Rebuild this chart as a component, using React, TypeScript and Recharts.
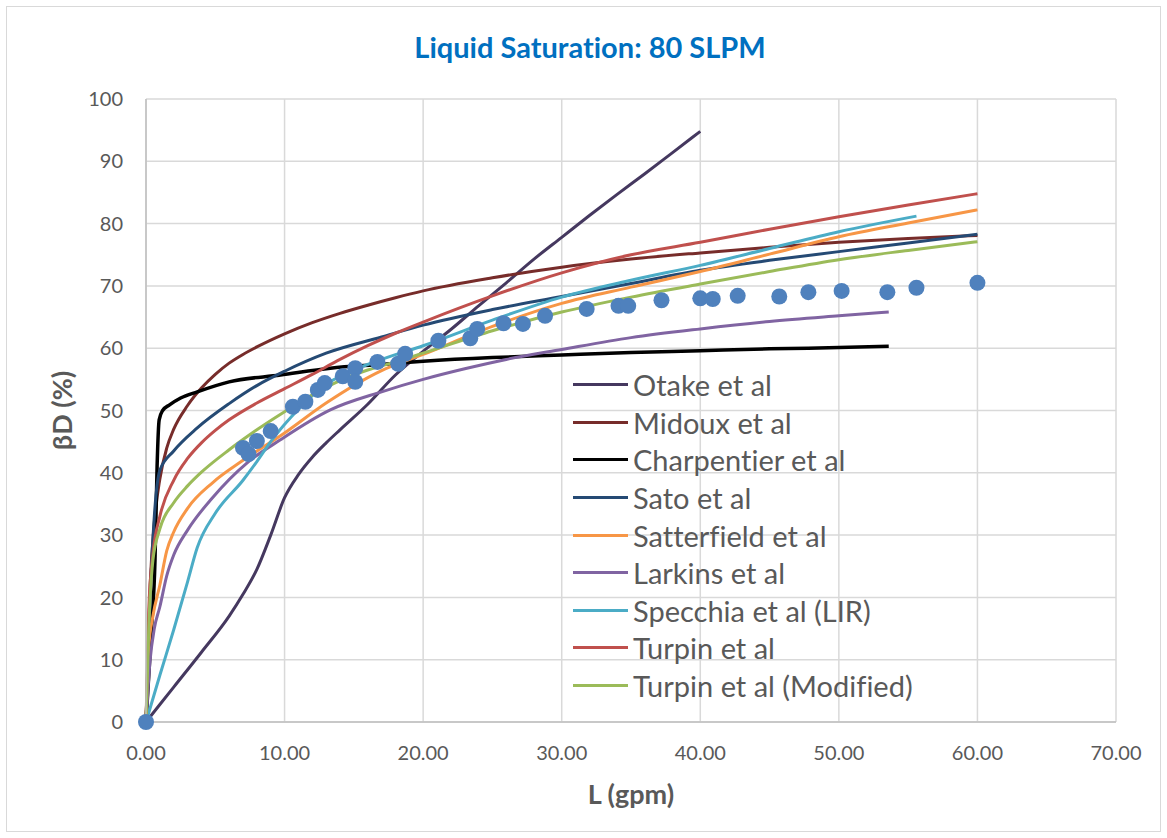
import React from 'react';
import {
  ComposedChart,
  Line,
  Scatter,
  XAxis,
  YAxis,
  CartesianGrid,
  Label,
} from 'recharts';

// [L (gpm), βD (%)] pairs for each correlation
const otake = [
  [0, 0], [2, 5.6], [4, 11.2], [6, 17], [7, 20.5], [8, 24.5], [9, 30], [10, 36], [11, 39.7],
  [12, 42.5], [13, 44.8], [14, 46.9], [16, 51], [18, 55.7], [20, 59.5], [22, 63], [24, 66.8],
  [26, 70.5], [28, 74.3], [30, 77.8], [32, 81.3], [34, 84.7], [36, 88], [38, 91.4], [40, 94.8],
];
const midoux = [
  [0, 0], [0.3, 22], [0.6, 32], [1, 39], [1.5, 44], [2, 47], [3, 50.8], [4, 53.6], [5, 55.8],
  [6, 57.6], [7, 59], [8, 60.2], [10, 62.3], [12, 64.1], [14, 65.6], [16, 66.9], [18, 68.1],
  [20, 69.2], [25, 71.3], [30, 73], [35, 74.3], [40, 75.3], [45, 76.2], [50, 77], [55, 77.6], [60, 78.1],
];
const charpentier = [
  [0, 0], [0.4, 15], [0.65, 26], [0.8, 41], [0.95, 48.5], [1.2, 50], [1.7, 50.9], [2.5, 52],
  [3.7, 53], [6, 54.6], [9.7, 55.7], [13.3, 56.8], [17, 57.4], [20, 57.9], [25, 58.5], [30, 58.9],
  [35, 59.3], [40, 59.6], [45, 59.9], [50, 60.1], [53.6, 60.3],
];
const sato = [
  [0, 0], [0.3, 20], [0.6, 33], [1, 40.4], [2, 43.5], [3.7, 47.2], [6, 51.1], [8, 54], [10, 56.3],
  [13, 59.2], [17, 61.8], [20, 63.7], [25, 66.2], [30, 68.3], [35, 70.4], [40, 72.5], [45, 74.1],
  [50, 75.5], [55, 76.9], [60, 78.3],
];
const satterfield = [
  [0, 0], [0.2, 12], [0.5, 17], [1, 22], [1.5, 27.5], [2, 30.5], [3, 34.3], [4.8, 38.4], [7, 42],
  [10, 46.4], [13, 51.2], [17, 56.4], [20, 59], [25, 63.5], [30, 67.2], [35, 69.8], [40, 72.3],
  [45, 75.1], [50, 77.9], [55, 80.1], [60, 82.2],
];
const larkins = [
  [0, 0], [0.3, 10], [0.6, 15], [1, 18.5], [1.5, 23.5], [2, 26.8], [3, 30.8], [4.8, 36], [7.3, 41.6],
  [9.7, 45.3], [13.3, 50.1], [17, 53], [20, 55], [23, 56.7], [26, 58.2], [30, 59.8], [35, 61.7],
  [40, 63.1], [45, 64.3], [50, 65.2], [53.6, 65.8],
];
const specchia = [
  [0, 0], [1, 7.5], [2, 14.8], [3, 22.5], [3.7, 28], [5, 33.5], [7, 38.8], [8, 41.8], [9, 45],
  [11, 50.2], [13, 54.2], [15, 56.5], [17, 58.2], [20, 60.4], [25, 64.5], [30, 68.2], [35, 70.9],
  [40, 73.3], [45, 76], [50, 78.7], [55.6, 81.2],
];
const turpin = [
  [0, 0], [0.2, 18], [0.5, 27], [1, 33], [2, 38.8], [3, 42.3], [4, 44.8], [5, 46.8], [6, 48.5],
  [8, 51.2], [10, 53.5], [12, 55.8], [14, 58.2], [16, 60.4], [18, 62.4], [20, 64.2], [25, 68.4],
  [30, 72.1], [35, 75], [40, 77], [45, 79.1], [50, 81.1], [55, 83], [60, 84.8],
];
const turpinModified = [
  [0, 0], [0.2, 15], [0.5, 26], [1, 31], [2, 35.2], [3, 37.9], [4, 40.1], [6, 43.7], [8, 46.9],
  [10, 49.8], [12, 52.5], [14, 54.8], [16, 56.5], [18, 57.8], [20, 59.2], [25, 62.8], [30, 65.8],
  [35, 68.2], [40, 70.3], [45, 72.3], [50, 74.2], [55, 75.7], [60, 77.1],
];

// measured points
const measured = [
  [0, 0], [7.0, 44.0], [7.4, 43.0], [8.0, 45.1], [9.0, 46.7], [10.6, 50.6], [11.5, 51.4],
  [12.4, 53.3], [12.9, 54.4], [14.2, 55.5], [15.1, 56.8], [15.1, 54.6], [16.7, 57.8],
  [18.2, 57.5], [18.7, 59.1], [21.1, 61.2], [23.4, 61.6], [23.9, 63.1], [25.8, 64.0],
  [27.2, 63.9], [28.8, 65.2], [31.8, 66.3], [34.1, 66.8], [34.8, 66.8], [37.2, 67.7],
  [40.0, 68.0], [40.9, 67.9], [42.7, 68.4], [45.7, 68.3], [47.8, 69.0], [50.2, 69.2],
  [53.5, 69.0], [55.6, 69.7], [60.0, 70.5],
];

const xTicks = [0, 10, 20, 30, 40, 50, 60, 70];
const yTicks = [0, 10, 20, 30, 40, 50, 60, 70, 80, 90, 100];

const series = [
  { name: 'Otake et al', points: otake, color: '#45385f' },
  { name: 'Midoux et al', points: midoux, color: '#772c2a' },
  { name: 'Charpentier et al', points: charpentier, color: '#000000' },
  { name: 'Sato et al', points: sato, color: '#254a74' },
  { name: 'Satterfield et al', points: satterfield, color: '#f79646' },
  { name: 'Larkins et al', points: larkins, color: '#8064a2' },
  { name: 'Specchia et al (LIR)', points: specchia, color: '#4bacc6' },
  { name: 'Turpin et al', points: turpin, color: '#c0504d' },
  { name: 'Turpin et al (Modified)', points: turpinModified, color: '#9bbb59' },
];

const toRows = (pts: number[][]) => pts.map(([L, b]) => ({ L, b }));

const FONT = 'Lato, "Open Sans", sans-serif';
const GREY = '#595959';

const Dot = (props: any) => <circle cx={props.cx} cy={props.cy} r={8} fill="#4f81bd" />;

export default function App() {
  return (
    <div
      style={{
        position: 'absolute', left: 0, top: 0, width: 1167, height: 838, background: '#fff',
        fontFamily: FONT, fontVariantLigatures: 'none',
      }}
    >
      <div style={{ position: 'absolute', left: 6, top: 6, width: 1153, height: 824, border: '1px solid #d9d9d9' }} />
      <div
        style={{
          position: 'absolute', left: 0, width: 1180, top: 28, textAlign: 'center',
          color: '#0070c0', fontWeight: 700, fontSize: 29, lineHeight: '38px',
        }}
      >
        Liquid Saturation: 80 SLPM
      </div>
      <ComposedChart
        width={1167}
        height={838}
        margin={{ top: 99, right: 51, bottom: 76, left: 86 }}
        style={{ position: 'absolute', left: 0, top: 0 }}
      >
        <CartesianGrid stroke="#d9d9d9" strokeWidth={1.5} />
        <XAxis
          dataKey="L"
          type="number"
          domain={[0, 70]}
          ticks={xTicks}
          tickFormatter={(v: number) => v.toFixed(2)}
          height={40}
          tickSize={0}
          tickMargin={24}
          axisLine={{ stroke: '#bfbfbf', strokeWidth: 1.5 }}
          tick={{ fill: GREY, fontSize: 20, fontFamily: FONT }}
        >
          <Label value="L (gpm)" position="bottom" offset={23}
            style={{ fill: GREY, fontSize: 27, fontWeight: 700, fontFamily: FONT }} />
        </XAxis>
        <YAxis
          dataKey="b"
          type="number"
          domain={[0, 100]}
          ticks={yTicks}
          width={60}
          tickSize={0}
          tickMargin={23}
          axisLine={{ stroke: '#bfbfbf', strokeWidth: 1.5 }}
          tick={{ fill: GREY, fontSize: 20, fontFamily: FONT }}
        >
          <Label value="βD (%)" position="left" offset={24} angle={-90}
            style={{ fill: GREY, fontSize: 27, fontWeight: 700, fontFamily: FONT, textAnchor: 'middle' }} />
        </YAxis>
        {series.map((s) => (
          <Line
            key={s.name}
            data={toRows(s.points)}
            dataKey="b"
            name={s.name}
            type="monotone"
            stroke={s.color}
            strokeWidth={s.color === '#000000' ? 3.5 : 3}
            dot={false}
            activeDot={false}
            isAnimationActive={false}
          />
        ))}
        <Scatter data={toRows(measured)} dataKey="b" shape={Dot} isAnimationActive={false} />
      </ComposedChart>
      <div style={{ position: 'absolute', left: 573, top: 366 }}>
        {series.map((s) => (
          <div key={s.name} style={{ display: 'flex', alignItems: 'center', height: 37.6 }}>
            <div style={{ width: 55, height: 3, background: s.color, marginRight: 5 }} />
            <span style={{ fontSize: 29, color: GREY, whiteSpace: 'nowrap' }}>{s.name}</span>
          </div>
        ))}
      </div>
    </div>
  );
}
